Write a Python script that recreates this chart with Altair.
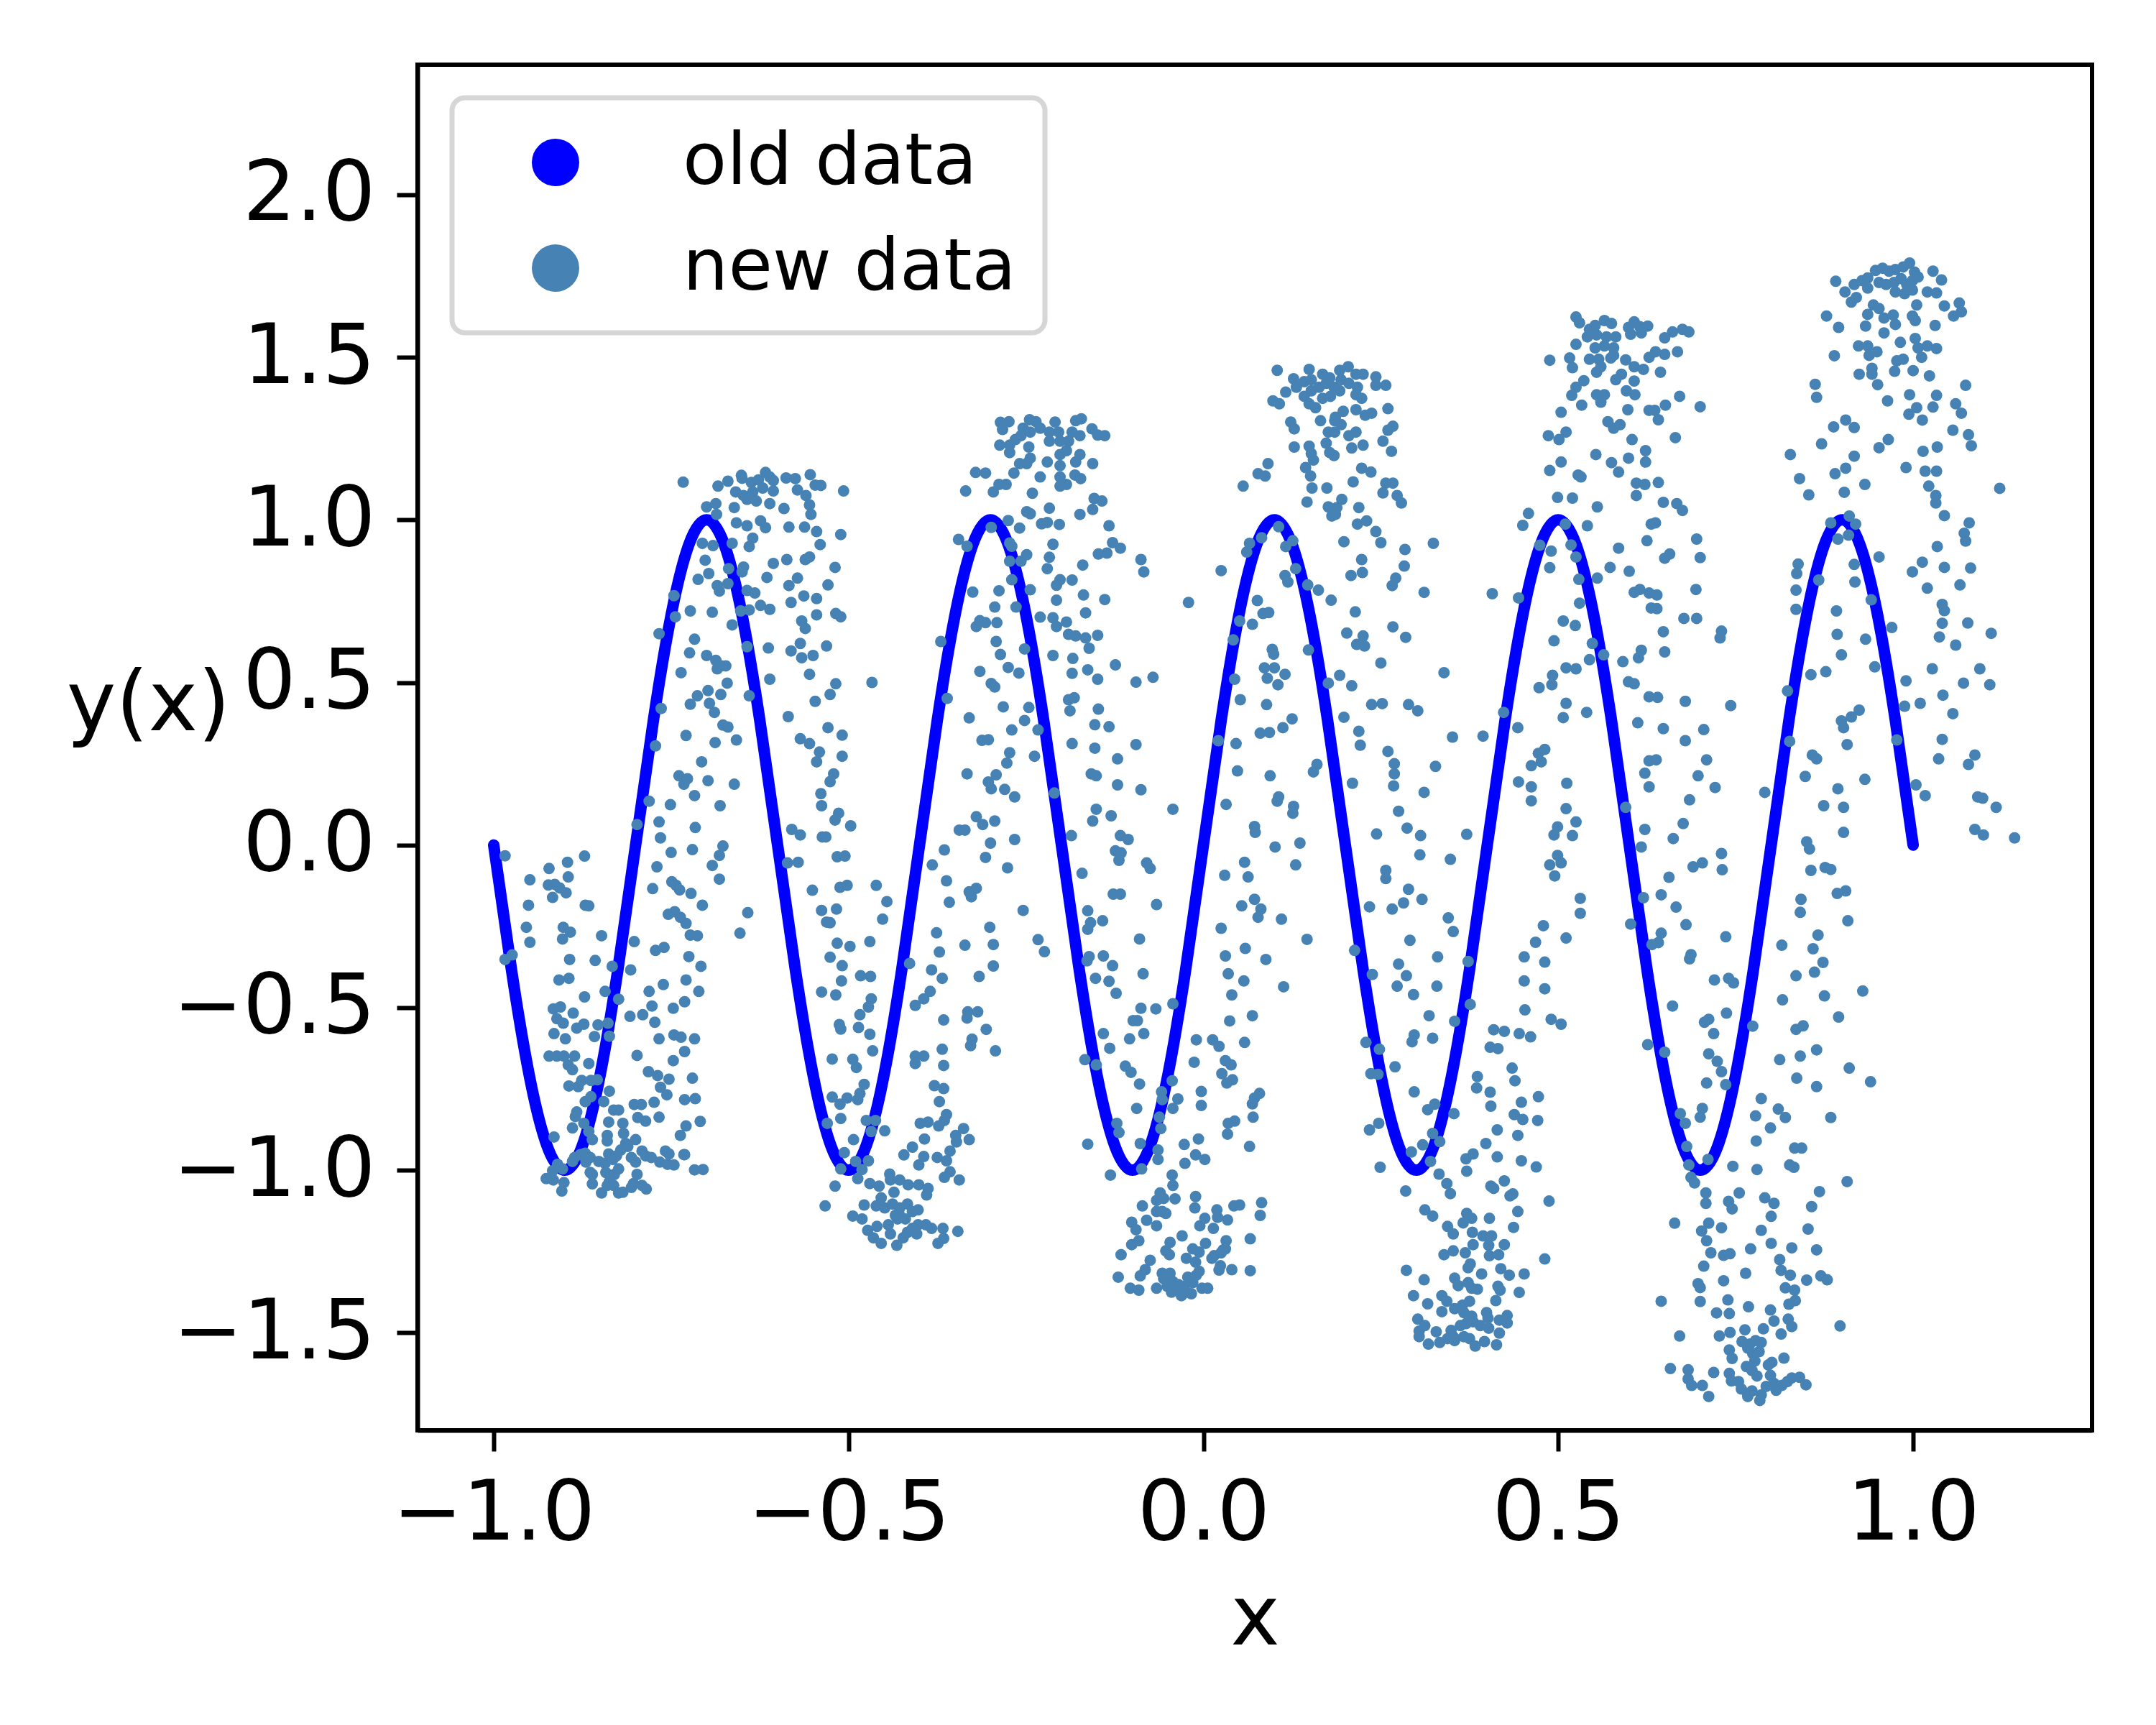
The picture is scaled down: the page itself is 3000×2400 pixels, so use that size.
import altair as alt
import pandas as pd

# ---------------- data ----------------
# "old data": y(x) sampled every 0.025 along x from -1 to 1
line_x = [-1.0, -0.975, -0.95, -0.925, -0.9, -0.875, -0.85, -0.825, -0.8, -0.775, -0.75, -0.725,
          -0.7, -0.675, -0.65, -0.625, -0.6, -0.575, -0.55, -0.525, -0.5, -0.475, -0.45, -0.425,
          -0.4, -0.375, -0.35, -0.325, -0.3, -0.275, -0.25, -0.225, -0.2, -0.175, -0.15, -0.125,
          -0.1, -0.075, -0.05, -0.025, 0.0, 0.025, 0.05, 0.075, 0.1, 0.125, 0.15, 0.175,
          0.2, 0.225, 0.25, 0.275, 0.3, 0.325, 0.35, 0.375, 0.4, 0.425, 0.45, 0.475,
          0.5, 0.525, 0.55, 0.575, 0.6, 0.625, 0.65, 0.675, 0.7, 0.725, 0.75, 0.775,
          0.8, 0.825, 0.85, 0.875, 0.9, 0.925, 0.95, 0.975, 1.0]
line_y = [0.0, -0.383, -0.707, -0.924, -1.0, -0.924, -0.707, -0.383,
          0.0, 0.383, 0.707, 0.924, 1.0, 0.924, 0.707, 0.383,
          0.0, -0.383, -0.707, -0.924, -1.0, -0.924, -0.707, -0.383,
          0.0, 0.383, 0.707, 0.924, 1.0, 0.924, 0.707, 0.383,
          0.0, -0.383, -0.707, -0.924, -1.0, -0.924, -0.707, -0.383,
          0.0, 0.383, 0.707, 0.924, 1.0, 0.924, 0.707, 0.383,
          0.0, -0.383, -0.707, -0.924, -1.0, -0.924, -0.707, -0.383,
          0.0, 0.383, 0.707, 0.924, 1.0, 0.924, 0.707, 0.383,
          0.0, -0.383, -0.707, -0.924, -1.0, -0.924, -0.707, -0.383,
          0.0, 0.383, 0.707, 0.924, 1.0, 0.924, 0.707, 0.383,
          0.0]

# "new data": scattered points, read region by region off the picture
new_left_upper = [
    (-0.733, 1.116), (-0.684, 1.104), (-0.670, 1.119), (-0.651, 1.137), (-0.650, 1.128), (-0.637, 1.115),
    (-0.627, 1.123), (-0.617, 1.146), (-0.611, 1.132), (-0.606, 1.121), (-0.588, 1.129), (-0.575, 1.127),
    (-0.554, 1.139), (-0.547, 1.107), (-0.539, 1.106), (-0.507, 1.089), (-0.659, 1.086), (-0.648, 1.075),
    (-0.635, 1.086), (-0.621, 1.098), (-0.606, 1.089), (-0.572, 1.092), (-0.560, 1.075), (-0.700, 1.040),
    (-0.687, 1.050), (-0.686, 1.017), (-0.661, 1.038), (-0.643, 1.063), (-0.630, 1.058), (-0.611, 1.050),
    (-0.591, 1.035), (-0.555, 1.046), (-0.553, 1.017), (-0.658, 0.991), (-0.643, 0.982), (-0.624, 0.997),
    (-0.617, 0.976), (-0.584, 0.978), (-0.562, 0.978), (-0.545, 0.964), (-0.511, 0.955), (-0.706, 0.928),
    (-0.691, 0.921), (-0.664, 0.928), (-0.640, 0.918), (-0.635, 0.944), (-0.540, 0.924), (-0.587, 0.878),
    (-0.606, 0.866), (-0.561, 0.878), (-0.555, 0.886), (-0.519, 0.854), (-0.702, 0.876), (-0.669, 0.850),
    (-0.650, 0.840), (-0.648, 0.855), (-0.712, 0.817), (-0.697, 0.835), (-0.685, 0.798), (-0.682, 0.781),
    (-0.670, 0.804), (-0.643, 0.783), (-0.632, 0.775), (-0.640, 0.723), (-0.624, 0.737), (-0.611, 0.725),
    (-0.615, 0.823), (-0.584, 0.798), (-0.572, 0.821), (-0.529, 0.800), (-0.545, 0.758), (-0.563, 0.766),
    (-0.581, 0.746), (-0.746, 0.767), (-0.744, 0.702), (-0.723, 0.720), (-0.692, 0.716), (-0.652, 0.720),
    (-0.518, 0.712), (-0.511, 0.702), (-0.545, 0.708), (-0.566, 0.689), (-0.561, 0.666), (-0.767, 0.650),
    (-0.664, 0.677), (-0.717, 0.633), (-0.724, 0.591), (-0.700, 0.583), (-0.687, 0.568), (-0.679, 0.551),
    (-0.673, 0.551), (-0.685, 0.542), (-0.643, 0.610), (-0.613, 0.606), (-0.581, 0.597), (-0.568, 0.620),
    (-0.566, 0.576), (-0.550, 0.583), (-0.531, 0.612), (-0.736, 0.530), (-0.671, 0.498), (-0.611, 0.510),
    (-0.555, 0.525), (-0.518, 0.496), (-0.467, 0.500), (-0.764, 0.420), (-0.723, 0.433), (-0.713, 0.459),
    (-0.698, 0.475), (-0.696, 0.436), (-0.689, 0.408), (-0.680, 0.463), (-0.640, 0.459), (-0.547, 0.442),
    (-0.526, 0.463), (-0.585, 0.395), (-0.772, 0.305), (-0.729, 0.337), (-0.688, 0.315), (-0.677, 0.369),
    (-0.670, 0.363), (-0.658, 0.323), (-0.568, 0.327), (-0.555, 0.312), (-0.529, 0.361), (-0.509, 0.338),
    (-0.541, 0.286), (-0.545, 0.256), (-0.509, 0.273), (-0.707, 0.256), (-0.739, 0.213), (-0.732, 0.187),
    (-0.727, 0.204), (-0.698, 0.198), (-0.661, 0.187), (-0.521, 0.219), (-0.526, 0.195), (-0.539, 0.158),
    (-0.781, 0.135), (-0.751, 0.124), (-0.717, 0.152), (-0.681, 0.121), (-0.538, 0.121), (-0.514, 0.098),
    (-0.286, 1.300), (-0.274, 1.302), (-0.283, 1.278), (-0.254, 1.282), (-0.245, 1.308), (-0.236, 1.302),
    (-0.209, 1.301), (-0.230, 1.282), (-0.217, 1.270), (-0.204, 1.270), (-0.287, 1.230), (-0.273, 1.230),
    (-0.265, 1.247), (-0.257, 1.259), (-0.246, 1.224), (-0.244, 1.270), (-0.217, 1.242), (-0.202, 1.242),
    (-0.273, 1.207), (-0.249, 1.173), (-0.259, 1.173), (-0.244, 1.190), (-0.220, 1.178), (-0.202, 1.201),
    (-0.202, 1.167), (-0.267, 1.144), (-0.278, 1.109), (-0.288, 1.109), (-0.296, 1.086), (-0.307, 1.144),
    (-0.321, 1.146), (-0.335, 1.089), (-0.230, 1.132), (-0.241, 1.082), (-0.202, 1.132), (-0.202, 1.104),
    (-0.217, 1.036), (-0.249, 1.025), (-0.244, 1.019), (-0.275, 0.998), (-0.259, 0.975), (-0.228, 0.988),
    (-0.220, 0.992), (-0.203, 0.986), (-0.299, 0.977), (-0.345, 0.940), (-0.333, 0.919), (-0.273, 0.929),
    (-0.270, 0.919), (-0.212, 0.925), (-0.249, 0.893), (-0.257, 0.873), (-0.273, 0.873), (-0.217, 0.885),
    (-0.220, 0.850), (-0.202, 0.816), (-0.270, 0.816), (-0.288, 0.782), (-0.325, 0.778), (-0.244, 0.785),
    (-0.207, 0.799), (-0.207, 0.753), (-0.294, 0.732), (-0.264, 0.732), (-0.230, 0.701), (-0.212, 0.699),
    (-0.291, 0.684), (-0.307, 0.684), (-0.320, 0.672), (-0.315, 0.690), (-0.207, 0.672), (-0.292, 0.626),
    (-0.370, 0.626), (-0.252, 0.603), (-0.286, 0.586), (-0.275, 0.546), (-0.260, 0.529), (-0.212, 0.583),
    (-0.315, 0.534), (-0.299, 0.497), (-0.294, 0.486), (-0.361, 0.451), (-0.282, 0.425), (-0.246, 0.423),
    (-0.330, 0.391), (-0.252, 0.383), (-0.233, 0.354), (-0.270, 0.354), (-0.312, 0.322), (-0.303, 0.324),
    (-0.273, 0.284), (-0.277, 0.252), (-0.238, 0.273), (-0.333, 0.219), (-0.292, 0.216), (-0.303, 0.194),
    (-0.299, 0.173), (-0.280, 0.171), (-0.266, 0.148), (-0.210, 0.160), (-0.320, 0.087),
]

new_left_lower = [
    (-0.984, -0.033), (-0.949, -0.107), (-0.922, -0.072), (-0.896, -0.053), (-0.872, -0.034), (-0.923, -0.123),
    (-0.914, -0.121), (-0.907, -0.132), (-0.898, -0.147), (-0.917, -0.161), (-0.895, -0.098), (-0.951, -0.185),
    (-0.954, -0.253), (-0.949, -0.299), (-0.902, -0.253), (-0.892, -0.268), (-0.903, -0.289), (-0.871, -0.185),
    (-0.866, -0.187), (-0.848, -0.279), (-0.984, -0.352), (-0.974, -0.338), (-0.893, -0.352), (-0.857, -0.355),
    (-0.908, -0.415), (-0.894, -0.410), (-0.833, -0.373), (-0.807, -0.384), (-0.802, -0.297), (-0.772, -0.324),
    (-0.760, -0.315), (-0.843, -0.450), (-0.824, -0.474), (-0.872, -0.467), (-0.916, -0.504), (-0.906, -0.498),
    (-0.888, -0.517), (-0.911, -0.534), (-0.902, -0.548), (-0.883, -0.563), (-0.873, -0.551), (-0.853, -0.553),
    (-0.839, -0.548), (-0.837, -0.588), (-0.858, -0.589), (-0.915, -0.580), (-0.899, -0.596), (-0.922, -0.649),
    (-0.911, -0.649), (-0.901, -0.649), (-0.886, -0.649), (-0.895, -0.676), (-0.889, -0.691), (-0.866, -0.672),
    (-0.894, -0.741), (-0.881, -0.743), (-0.876, -0.724), (-0.863, -0.724), (-0.854, -0.722), (-0.871, -0.789),
    (-0.863, -0.774), (-0.845, -0.789), (-0.837, -0.757), (-0.883, -0.821), (-0.885, -0.835), (-0.873, -0.856),
    (-0.889, -0.870), (-0.915, -0.898), (-0.866, -0.881), (-0.861, -0.906), (-0.838, -0.852), (-0.818, -0.856),
    (-0.817, -0.887), (-0.831, -0.815), (-0.824, -0.815), (-0.840, -0.893), (-0.840, -0.910), (-0.814, -0.918),
    (-0.800, -0.906), (-0.786, -0.849), (-0.797, -0.838), (-0.802, -0.798), (-0.792, -0.798), (-0.774, -0.791),
    (-0.767, -0.837), (-0.753, -0.720), (-0.765, -0.745), (-0.756, -0.768), (-0.769, -0.709), (-0.782, -0.697),
    (-0.798, -0.647), (-0.808, -0.527), (-0.790, -0.522), (-0.777, -0.495), (-0.773, -0.545), (-0.781, -0.450),
    (-0.761, -0.429), (-0.747, -0.502), (-0.767, -0.596), (-0.746, -0.584), (-0.736, -0.591), (-0.717, -0.596),
    (-0.747, -0.663), (-0.731, -0.635), (-0.720, -0.717), (-0.731, -0.783), (-0.716, -0.780), (-0.709, -0.850),
    (-0.729, -0.864), (-0.737, -0.893), (-0.732, -0.952), (-0.717, -0.999), (-0.705, -0.998), (-0.729, -0.415),
    (-0.711, -0.450), (-0.731, -0.482), (-0.725, -0.343), (-0.708, -0.373), (-0.723, -0.277), (-0.713, -0.279),
    (-0.754, -0.213), (-0.745, -0.205), (-0.737, -0.222), (-0.729, -0.241), (-0.722, -0.149), (-0.706, -0.185),
    (-0.749, -0.113), (-0.738, -0.138), (-0.743, -0.124), (-0.776, -0.134), (-0.770, -0.067), (-0.750, -0.023),
    (-0.720, -0.014), (-0.765, 0.022), (-0.767, 0.071), (-0.798, 0.063), (-0.716, 0.054), (-0.682, -0.032),
    (-0.677, -0.003), (-0.692, -0.063), (-0.682, -0.105), (-0.642, -0.208), (-0.653, -0.271),
    (-0.926, -1.026), (-0.916, -1.030), (-0.910, -0.982), (-0.917, -1.002), (-0.901, -1.038), (-0.904, -1.064),
    (-0.889, -0.973), (-0.873, -0.950), (-0.870, -0.975), (-0.864, -0.961), (-0.861, -1.013), (-0.861, -1.042),
    (-0.848, -1.070), (-0.852, -0.973), (-0.843, -0.979), (-0.838, -0.950), (-0.832, -0.967), (-0.827, -0.956),
    (-0.821, -0.938), (-0.811, -0.927), (-0.806, -0.961), (-0.800, -0.975), (-0.791, -0.941), (-0.786, -0.956),
    (-0.778, -0.961), (-0.766, -0.975), (-0.758, -0.941), (-0.753, -0.950), (-0.755, -0.982), (-0.746, -0.984),
    (-0.731, -0.952), (-0.842, -1.007), (-0.837, -1.035), (-0.830, -1.013), (-0.824, -0.996), (-0.824, -1.070),
    (-0.818, -1.068), (-0.840, -1.047), (-0.831, -1.047), (-0.806, -1.053), (-0.798, -1.013), (-0.791, -1.047),
    (-0.785, -1.058), (-0.803, -1.041), (-0.864, -1.007), (-0.871, -0.948), (-0.878, -0.952), (-0.886, -0.961),
    (-0.903, -0.996),
    (-0.580, 0.048), (-0.568, 0.031), (-0.537, 0.025), (-0.532, 0.025), (-0.519, 0.077), (-0.497, 0.059),
    (-0.586, -0.055), (-0.571, -0.053), (-0.551, -0.139), (-0.516, -0.036), (-0.505, -0.034), (-0.512, -0.130),
    (-0.502, -0.124), (-0.461, -0.124), (-0.446, -0.174), (-0.452, -0.228), (-0.517, -0.197), (-0.538, -0.201),
    (-0.531, -0.237), (-0.526, -0.239), (-0.516, -0.302), (-0.498, -0.312), (-0.470, -0.297), (-0.526, -0.345),
    (-0.509, -0.371), (-0.510, -0.418), (-0.538, -0.452), (-0.518, -0.461), (-0.483, -0.402), (-0.469, -0.404),
    (-0.468, -0.473), (-0.472, -0.498), (-0.484, -0.522), (-0.513, -0.552), (-0.511, -0.566), (-0.486, -0.561),
    (-0.470, -0.582), (-0.466, -0.633), (-0.523, -0.658), (-0.494, -0.659), (-0.489, -0.684), (-0.478, -0.736),
    (-0.484, -0.764), (-0.487, -0.783), (-0.523, -0.775), (-0.512, -0.797), (-0.502, -0.778), (-0.511, -0.841),
    (-0.530, -0.856), (-0.475, -0.847), (-0.462, -0.847), (-0.468, -0.881), (-0.449, -0.879), (-0.493, -0.906),
    (-0.506, -0.946), (-0.511, -0.996), (-0.490, -0.973), (-0.472, -0.971), (-0.481, -0.998), (-0.487, -1.026),
    (-0.519, -1.049), (-0.533, -1.110), (-0.494, -1.141), (-0.470, -1.041), (-0.457, -1.049), (-0.442, -1.012),
    (-0.441, -1.030), (-0.428, -1.030), (-0.416, -1.045), (-0.401, -1.045), (-0.388, -1.056), (-0.390, -1.076),
    (-0.436, -1.068), (-0.454, -1.085), (-0.461, -1.110), (-0.478, -1.107), (-0.449, -1.116), (-0.438, -1.104),
    (-0.428, -1.116), (-0.417, -1.104), (-0.410, -1.127), (-0.402, -1.122), (-0.481, -1.150), (-0.473, -1.185),
    (-0.465, -1.208), (-0.454, -1.225), (-0.441, -1.196), (-0.432, -1.231), (-0.423, -1.208), (-0.417, -1.191),
    (-0.410, -1.179), (-0.402, -1.168), (-0.391, -1.168), (-0.383, -1.179), (-0.367, -1.179), (-0.346, -1.188),
    (-0.374, -1.225), (-0.366, -1.210), (-0.460, -1.173), (-0.444, -1.168), (-0.431, -1.150), (-0.420, -1.150),
    (-0.404, -1.196), (-0.434, -1.139), (-0.429, -1.133),
    (-0.410, -0.929), (-0.422, -0.953), (-0.393, -0.904), (-0.401, -0.984), (-0.394, -0.958), (-0.375, -0.961),
    (-0.362, -0.971), (-0.357, -0.941), (-0.365, -1.022), (-0.357, -1.005), (-0.344, -1.030), (-0.399, -0.856),
    (-0.388, -0.852), (-0.373, -0.864), (-0.365, -0.847), (-0.362, -0.829), (-0.349, -0.893), (-0.348, -0.913),
    (-0.338, -0.872), (-0.330, -0.906), (-0.372, -0.789), (-0.379, -0.740), (-0.366, -0.749), (-0.366, -0.678),
    (-0.368, -0.628), (-0.406, -0.649), (-0.394, -0.649), (-0.406, -0.672), (-0.366, -0.538), (-0.332, -0.513),
    (-0.318, -0.513), (-0.333, -0.532), (-0.306, -0.567), (-0.326, -0.597), (-0.328, -0.617), (-0.293, -0.633),
    (-0.406, -0.493), (-0.394, -0.473), (-0.385, -0.450), (-0.368, -0.410), (-0.383, -0.384), (-0.414, -0.364),
    (-0.372, -0.329), (-0.376, -0.270), (-0.336, -0.308), (-0.316, -0.404), (-0.296, -0.372), (-0.296, -0.306),
    (-0.301, -0.253), (-0.330, -0.144), (-0.320, -0.133), (-0.327, -0.159), (-0.358, -0.176), (-0.362, -0.110),
    (-0.382, -0.061), (-0.365, -0.015), (-0.307, -0.038), (-0.300, 0.006), (-0.276, -0.070), (-0.266, 0.017),
    (-0.254, -0.201), (-0.233, -0.291), (-0.224, -0.328), (-0.344, 0.046), (-0.336, 0.046), (-0.311, 0.063),
    (-0.294, 0.074),
]

new_mid_upper = [
    (-0.180, 1.305), (-0.172, 1.311), (-0.185, 1.270), (-0.174, 1.259), (-0.157, 1.280), (-0.149, 1.261),
    (-0.139, 1.259), (-0.190, 1.242), (-0.193, 1.213), (-0.174, 1.201), (-0.180, 1.178), (-0.156, 1.173),
    (-0.181, 1.138), (-0.173, 1.127), (-0.193, 1.109), (-0.154, 1.066), (-0.143, 1.058), (-0.156, 1.032),
    (-0.174, 1.017), (-0.133, 0.982), (-0.128, 0.930), (-0.117, 0.913), (-0.148, 0.895), (-0.136, 0.898),
    (-0.170, 0.861), (-0.088, 0.878), (-0.084, 0.840), (-0.185, 0.815), (-0.139, 0.755), (-0.169, 0.769),
    (-0.166, 0.714), (-0.193, 0.686), (-0.190, 0.648), (-0.180, 0.643), (-0.166, 0.637), (-0.149, 0.645),
    (-0.161, 0.605), (-0.124, 0.554), (-0.184, 0.574), (-0.185, 0.528), (-0.163, 0.539), (-0.149, 0.510),
    (-0.095, 0.501), (-0.071, 0.516), (-0.190, 0.447), (-0.182, 0.453), (-0.188, 0.413), (-0.148, 0.418),
    (-0.153, 0.370), (-0.133, 0.364), (-0.185, 0.312), (-0.153, 0.298), (-0.121, 0.265), (-0.095, 0.309),
    (-0.158, 0.219), (-0.151, 0.213), (-0.121, 0.185), (-0.088, 0.170), (-0.151, 0.110), (-0.130, 0.090),
    (-0.043, 0.110), (-0.021, 0.746),
    (0.104, 1.460), (0.149, 1.463), (0.127, 1.434), (0.142, 1.425), (0.152, 1.431), (0.168, 1.448),
    (0.178, 1.437), (0.192, 1.460), (0.204, 1.471), (0.215, 1.448), (0.225, 1.448), (0.243, 1.440),
    (0.257, 1.414), (0.243, 1.414), (0.116, 1.393), (0.098, 1.366), (0.107, 1.357), (0.131, 1.408),
    (0.142, 1.380), (0.152, 1.397), (0.163, 1.408), (0.173, 1.420), (0.184, 1.408), (0.194, 1.431),
    (0.205, 1.420), (0.217, 1.408), (0.215, 1.385), (0.223, 1.374), (0.149, 1.357), (0.158, 1.345),
    (0.168, 1.374), (0.179, 1.380), (0.192, 1.397), (0.186, 1.316), (0.197, 1.334), (0.215, 1.339),
    (0.228, 1.322), (0.237, 1.328), (0.260, 1.342), (0.185, 1.305), (0.194, 1.293), (0.123, 1.301),
    (0.128, 1.280), (0.165, 1.305), (0.176, 1.270), (0.185, 1.270), (0.205, 1.259), (0.215, 1.270),
    (0.128, 1.224), (0.149, 1.227), (0.152, 1.204), (0.173, 1.236), (0.178, 1.207), (0.184, 1.198),
    (0.209, 1.221), (0.225, 1.230), (0.253, 1.242), (0.260, 1.276), (0.267, 1.288), (0.265, 1.211),
    (0.155, 1.184), (0.144, 1.161), (0.151, 1.135), (0.223, 1.159), (0.236, 1.147), (0.211, 1.117),
    (0.257, 1.113), (0.267, 1.113), (0.253, 1.083), (0.273, 1.075), (0.279, 1.052), (0.153, 1.098),
    (0.174, 1.098), (0.146, 1.055), (0.195, 1.063), (0.188, 1.038), (0.176, 1.040), (0.181, 1.012),
    (0.186, 1.017), (0.219, 1.038), (0.217, 0.987), (0.230, 0.997), (0.243, 0.964), (0.250, 0.930),
    (0.198, 0.933), (0.056, 1.104), (0.077, 1.142), (0.087, 1.135), (0.091, 1.173),
    (0.106, 0.979), (0.082, 0.945), (0.065, 0.928), (0.061, 0.901), (0.116, 0.918), (0.126, 0.936),
    (0.130, 0.850), (0.115, 0.829), (0.119, 0.809), (0.147, 0.800), (0.162, 0.784), (0.180, 0.753),
    (0.025, 0.844), (0.076, 0.752), (0.084, 0.712), (0.092, 0.715), (0.069, 0.679), (0.051, 0.689),
    (0.042, 0.631), (0.214, 0.717), (0.223, 0.878), (0.208, 0.829), (0.224, 0.838), (0.284, 0.909),
    (0.283, 0.858), (0.271, 0.821), (0.266, 0.798), (0.311, 0.777), (0.324, 0.928), (0.267, 0.671),
    (0.285, 0.639), (0.202, 0.652), (0.225, 0.643), (0.216, 0.617), (0.227, 0.612), (0.250, 0.560),
    (0.148, 0.600), (0.097, 0.602), (0.099, 0.587), (0.086, 0.545), (0.100, 0.545), (0.115, 0.525),
    (0.090, 0.513), (0.105, 0.493), (0.044, 0.510), (0.052, 0.447), (0.089, 0.432), (0.176, 0.498),
    (0.192, 0.522), (0.209, 0.490), (0.339, 0.530), (0.237, 0.432), (0.252, 0.435), (0.289, 0.432),
    (0.302, 0.413), (0.198, 0.393), (0.125, 0.388), (0.112, 0.361), (0.080, 0.344), (0.093, 0.346),
    (0.219, 0.350), (0.221, 0.307), (0.046, 0.312), (0.021, 0.321), (0.260, 0.288), (0.269, 0.250),
    (0.269, 0.219), (0.268, 0.182), (0.327, 0.242), (0.160, 0.248), (0.155, 0.225), (0.094, 0.213),
    (0.048, 0.228), (0.210, 0.190), (0.311, 0.162), (0.106, 0.148), (0.104, 0.135), (0.127, 0.119),
    (0.126, 0.098), (0.032, 0.125), (0.275, 0.104), (0.351, 0.332), (0.394, 0.335),
    (0.525, 1.624), (0.530, 1.606), (0.544, 1.586), (0.552, 1.598), (0.565, 1.613), (0.575, 1.604),
    (0.541, 1.563), (0.554, 1.569), (0.568, 1.563), (0.581, 1.563), (0.565, 1.535), (0.578, 1.529),
    (0.552, 1.529), (0.607, 1.609), (0.599, 1.592), (0.615, 1.594), (0.626, 1.596), (0.602, 1.571),
    (0.617, 1.575), (0.525, 1.540), (0.516, 1.498), (0.520, 1.468), (0.488, 1.491), (0.544, 1.494),
    (0.557, 1.494), (0.554, 1.454), (0.560, 1.471), (0.574, 1.498), (0.578, 1.506), (0.595, 1.492),
    (0.607, 1.471), (0.620, 1.463), (0.628, 1.500), (0.536, 1.428), (0.525, 1.408), (0.519, 1.383),
    (0.554, 1.385), (0.560, 1.362), (0.565, 1.385), (0.533, 1.353), (0.581, 1.431), (0.589, 1.448),
    (0.607, 1.427), (0.596, 1.397), (0.608, 1.385), (0.504, 1.331), (0.486, 1.259), (0.501, 1.247),
    (0.511, 1.270), (0.570, 1.302), (0.578, 1.282), (0.587, 1.293), (0.598, 1.339), (0.604, 1.247),
    (0.628, 1.337), (0.553, 1.201), (0.575, 1.176), (0.585, 1.147), (0.599, 1.190), (0.623, 1.213),
    (0.623, 1.178), (0.504, 1.178), (0.488, 1.152), (0.528, 1.138), (0.532, 1.132), (0.610, 1.113),
    (0.610, 1.075), (0.622, 1.109), (0.499, 1.069), (0.520, 1.067), (0.555, 1.040), (0.458, 1.020),
    (0.450, 0.983), (0.510, 0.987), (0.541, 0.982), (0.631, 0.987), (0.474, 0.922), (0.490, 0.904),
    (0.518, 0.923), (0.488, 0.853), (0.525, 0.886), (0.529, 0.817), (0.555, 0.821), (0.573, 0.854),
    (0.585, 0.913), (0.600, 0.842), (0.625, 0.936), (0.607, 0.777), (0.615, 0.786), (0.628, 0.775),
    (0.407, 0.773), (0.444, 0.760), (0.530, 0.744), (0.507, 0.689), (0.524, 0.675), (0.631, 0.729),
    (0.494, 0.628), (0.548, 0.620), (0.564, 0.585), (0.544, 0.570), (0.511, 0.545), (0.525, 0.542),
    (0.492, 0.522), (0.491, 0.493), (0.473, 0.484), (0.591, 0.564), (0.613, 0.576), (0.617, 0.599),
    (0.599, 0.502), (0.607, 0.496), (0.628, 0.456), (0.423, 0.408), (0.443, 0.361), (0.511, 0.436),
    (0.507, 0.392), (0.540, 0.408), (0.612, 0.376), (0.472, 0.282), (0.481, 0.294), (0.476, 0.256),
    (0.462, 0.244), (0.628, 0.259), (0.622, 0.221), (0.444, 0.194), (0.462, 0.179), (0.462, 0.136),
    (0.512, 0.190), (0.511, 0.112), (0.595, 0.116), (0.628, 0.179),
]

new_mid_lower = [
    (-0.156, 0.074), (-0.186, 0.029), (-0.117, 0.029), (-0.106, 0.017), (-0.124, -0.018), (-0.116, -0.024),
    (-0.119, -0.047), (-0.080, -0.055), (-0.075, -0.072), (-0.171, -0.087), (-0.127, -0.151), (-0.117, -0.151),
    (-0.066, -0.183), (-0.163, -0.202), (-0.159, -0.239), (-0.163, -0.259), (-0.142, -0.233), (-0.090, -0.289),
    (-0.161, -0.343), (-0.164, -0.356), (-0.141, -0.341), (-0.128, -0.371), (-0.085, -0.396), (-0.152, -0.410),
    (-0.133, -0.419), (-0.123, -0.456), (-0.088, -0.502), (-0.067, -0.504), (-0.043, -0.488), (-0.099, -0.540),
    (-0.093, -0.540), (-0.141, -0.580), (-0.104, -0.596), (-0.084, -0.580), (-0.132, -0.625), (-0.167, -0.660),
    (-0.151, -0.676), (-0.110, -0.680), (-0.102, -0.699), (-0.090, -0.735), (-0.094, -0.810), (-0.059, -0.759),
    (-0.058, -0.783), (-0.044, -0.725), (-0.036, -0.781), (-0.043, -0.810), (-0.122, -0.856), (-0.119, -0.884),
    (-0.163, -0.920), (-0.089, -0.918), (-0.062, -0.837), (-0.060, -0.872), (-0.064, -0.938), (-0.064, -0.967),
    (-0.131, -1.015), (-0.087, -0.996), (-0.027, -0.921), (-0.007, -0.904), (-0.011, -0.953), (0.002, -0.967),
    (-0.026, -0.979), (-0.010, -0.599), (-0.013, -0.668), (0.013, -0.599), (0.022, -0.619), (0.031, -0.663),
    (0.039, -0.676), (0.026, -0.703), (0.033, -0.732), (0.041, -0.722), (-0.003, -0.758), (-0.003, -0.801),
    (0.035, -0.856), (0.044, -0.849), (0.034, -0.889), (0.070, -0.837), (0.069, -0.796), (0.072, -0.778),
    (0.079, -0.764), (0.065, -0.927), (0.058, -0.607), (0.037, -0.541), (0.069, -0.525), (0.057, -0.418),
    (0.035, -0.396), (0.040, -0.461), (0.059, -0.318), (0.088, -0.352), (0.031, -0.341), (0.113, -0.436),
    (0.025, -0.256), (0.054, -0.187), (0.072, -0.167), (0.081, -0.197), (0.077, -0.222), (0.110, -0.228),
    (0.146, -0.290), (0.030, -0.093), (0.063, -0.098), (0.058, -0.053), (0.072, 0.057), (0.073, 0.039),
    (0.101, -0.006), (0.130, -0.061), (0.136, 0.006), (-0.044, -1.015),
    (-0.043, -1.047), (-0.061, -1.070), (-0.066, -1.093), (-0.056, -1.087), (-0.040, -1.088), (-0.011, -1.081),
    (-0.012, -1.116), (-0.086, -1.110), (-0.101, -1.160), (-0.095, -1.183), (-0.080, -1.154), (-0.066, -1.127),
    (-0.058, -1.127), (-0.053, -1.133), (-0.066, -1.171), (-0.005, -1.171), (0.002, -1.148), (0.014, -1.179),
    (0.019, -1.122), (0.020, -1.145), (0.034, -1.153), (0.043, -1.110), (0.051, -1.107), (0.032, -1.217),
    (0.028, -1.245), (0.066, -1.211), (0.082, -1.100), (0.080, -1.139), (-0.101, -1.229), (-0.091, -1.217),
    (-0.116, -1.260), (-0.075, -1.277), (-0.053, -1.248), (-0.048, -1.260), (-0.047, -1.222), (-0.030, -1.202),
    (-0.015, -1.242), (-0.006, -1.252), (0.003, -1.225), (0.015, -1.263), (0.025, -1.254), (0.031, -1.242),
    (-0.024, -1.271), (-0.011, -1.283), (0.012, -1.271), (0.024, -1.294), (0.022, -1.307), (0.040, -1.306),
    (0.066, -1.309), (-0.082, -1.306), (-0.089, -1.325), (-0.120, -1.329), (-0.058, -1.317), (-0.047, -1.317),
    (-0.066, -1.363), (-0.103, -1.363), (-0.091, -1.369), (-0.056, -1.334), (-0.051, -1.357), (-0.043, -1.343),
    (-0.037, -1.369), (-0.031, -1.386), (-0.027, -1.357), (-0.022, -1.329), (-0.015, -1.346), (-0.010, -1.323),
    (-0.006, -1.311), (-0.002, -1.363), (0.006, -1.363), (-0.017, -1.380), (-0.024, -1.375), (-0.035, -1.352),
    (-0.045, -1.375),
    (0.244, 0.034), (0.287, 0.052), (0.306, 0.029), (0.305, -0.030), (0.348, -0.044), (0.371, 0.033),
    (0.257, -0.078), (0.257, -0.103), (0.289, -0.136), (0.308, -0.167), (0.282, -0.178), (0.266, -0.197),
    (0.234, -0.190), (0.345, -0.224), (0.352, -0.266), (0.291, -0.293), (0.330, -0.344), (0.275, -0.366),
    (0.286, -0.402), (0.273, -0.434), (0.296, -0.460), (0.329, -0.434), (0.318, -0.525), (0.297, -0.584),
    (0.294, -0.605), (0.323, -0.594), (0.373, -0.358), (0.376, -0.490), (0.213, -0.324), (0.238, -0.398),
    (0.229, -0.607), (0.248, -0.628), (0.270, -0.682), (0.236, -0.703), (0.246, -0.705), (0.297, -0.759),
    (0.316, -0.814), (0.326, -0.797), (0.353, -0.826), (0.323, -0.887), (0.333, -0.912), (0.309, -0.922),
    (0.293, -0.944), (0.320, -0.973), (0.234, -0.876), (0.247, -0.856), (0.249, -0.991), (0.285, -1.064),
    (0.332, -1.012), (0.343, -1.041), (0.348, -1.072), (0.370, -0.965), (0.380, -0.950), (0.371, -1.003),
    (0.398, -0.918), (0.414, -0.876), (0.414, -0.959), (0.404, -0.760), (0.405, -0.803), (0.386, -0.712),
    (0.385, -0.747), (0.354, -0.542), (0.409, -0.568), (0.424, -0.573), (0.445, -0.580), (0.461, -0.590),
    (0.404, -0.622), (0.415, -0.626), (0.435, -0.686), (0.439, -0.725), (0.448, -0.791), (0.438, -0.829),
    (0.450, -0.844), (0.443, -0.893), (0.472, -0.774), (0.471, -0.847), (0.448, -0.971), (0.469, -0.990),
    (0.424, -1.033), (0.405, -1.049), (0.409, -1.056), (0.432, -1.079), (0.436, -1.073), (0.443, -1.127),
    (0.437, -1.176), (0.487, -1.095), (0.481, -1.273), (0.403, -1.148), (0.371, -1.133), (0.366, -1.162),
    (0.378, -1.148), (0.312, -1.122), (0.323, -1.141), (0.344, -1.173), (0.352, -1.196), (0.379, -1.191),
    (0.394, -1.202), (0.406, -1.202), (0.402, -1.231), (0.403, -1.263), (0.416, -1.260), (0.424, -1.229),
    (0.380, -1.229), (0.369, -1.254), (0.339, -1.260), (0.352, -1.248), (0.376, -1.288), (0.373, -1.300),
    (0.392, -1.319), (0.419, -1.303), (0.431, -1.323), (0.452, -1.319), (0.445, -1.376), (0.412, -1.401),
    (0.415, -1.357), (0.418, -1.369), (0.286, -1.308), (0.311, -1.337), (0.354, -1.332), (0.359, -1.355),
    (0.373, -1.346), (0.378, -1.363), (0.386, -1.366), (0.296, -1.386), (0.316, -1.411), (0.336, -1.386),
    (0.343, -1.403), (0.336, -1.435), (0.354, -1.426), (0.365, -1.415), (0.375, -1.403), (0.378, -1.449),
    (0.367, -1.438), (0.399, -1.438), (0.401, -1.455), (0.417, -1.461), (0.428, -1.447), (0.428, -1.470),
    (0.302, -1.458), (0.304, -1.495), (0.312, -1.478), (0.328, -1.497), (0.349, -1.493), (0.362, -1.478),
    (0.370, -1.472), (0.380, -1.466), (0.390, -1.478), (0.402, -1.486), (0.417, -1.501), (0.304, -1.512),
    (0.317, -1.535), (0.333, -1.530), (0.344, -1.518), (0.354, -1.524), (0.375, -1.518), (0.383, -1.541),
    (0.396, -1.527), (0.413, -1.537), (0.367, -1.512), (0.352, -1.512),
    (0.494, 0.031), (0.499, 0.056), (0.520, 0.029), (0.525, 0.071), (0.488, -0.061), (0.499, -0.032),
    (0.504, -0.055), (0.495, -0.095), (0.531, -0.164), (0.531, -0.210), (0.511, -0.286), (0.481, -0.360),
    (0.479, -0.248), (0.468, -0.299), (0.452, -0.344), (0.452, -0.418), (0.481, -0.442), (0.453, -0.507),
    (0.490, -0.536), (0.504, -0.551), (0.620, -0.162), (0.602, -0.243), (0.617, -0.006), (0.622, 0.048),
    (0.626, -0.614), (0.632, -0.306),
]

new_right_upper = [
    (0.637, 1.517), (0.650, 1.560), (0.661, 1.578), (0.675, 1.586), (0.684, 1.578), (0.668, 1.517),
    (0.650, 1.509), (0.644, 1.454), (0.671, 1.380), (0.700, 1.348), (0.651, 1.353), (0.636, 1.337),
    (0.641, 1.308), (0.665, 1.253), (0.641, 1.115), (0.648, 1.054), (0.667, 1.050), (0.675, 1.029),
    (0.637, 0.991), (0.695, 0.941), (0.700, 0.884), (0.657, 0.895), (0.650, 0.882), (0.694, 0.786),
    (0.639, 0.769), (0.639, 0.727), (0.677, 0.697), (0.695, 0.697), (0.648, 0.656), (0.730, 0.658),
    (0.728, 0.637), (0.650, 0.594), (0.679, 0.442), (0.640, 0.454), (0.648, 0.358), (0.679, 0.321),
    (0.705, 0.355), (0.709, 0.262), (0.697, 0.213), (0.638, 0.262), (0.721, 0.177), (0.685, 0.139),
    (0.743, 0.429),
    (0.891, 1.734), (0.904, 1.701), (0.913, 1.670), (0.920, 1.684), (0.917, 1.724), (0.928, 1.736),
    (0.936, 1.744), (0.947, 1.767), (0.957, 1.774), (0.966, 1.765), (0.975, 1.770), (0.986, 1.778),
    (0.995, 1.790), (1.002, 1.762), (0.936, 1.713), (0.952, 1.730), (0.962, 1.724), (0.973, 1.730),
    (0.983, 1.742), (0.991, 1.724), (0.999, 1.736), (1.007, 1.747), (0.975, 1.701), (0.988, 1.696),
    (0.999, 1.707), (1.020, 1.701), (1.033, 1.698), (1.028, 1.765), (1.040, 1.738), (1.005, 1.661),
    (1.044, 1.658), (1.065, 1.667), (1.057, 1.627), (1.068, 1.640), (0.944, 1.661), (0.952, 1.650),
    (0.936, 1.632), (0.959, 1.621), (0.972, 1.630), (0.975, 1.601), (0.959, 1.575), (0.999, 1.627),
    (1.003, 1.613), (1.031, 1.598), (0.878, 1.627), (0.895, 1.592), (0.933, 1.596), (0.923, 1.535),
    (0.936, 1.535), (0.949, 1.517), (0.938, 1.506), (0.889, 1.505), (1.003, 1.558), (1.007, 1.529),
    (1.020, 1.535), (1.033, 1.527), (1.012, 1.500), (0.982, 1.546), (0.977, 1.489), (0.986, 1.494),
    (0.942, 1.466), (0.942, 1.448), (0.974, 1.457), (1.000, 1.459), (1.023, 1.443), (0.924, 1.448),
    (0.950, 1.416), (0.964, 1.366), (0.995, 1.385), (1.033, 1.383), (1.005, 1.345), (1.028, 1.347),
    (0.994, 1.325), (1.013, 1.307), (1.060, 1.357), (1.068, 1.328), (1.074, 1.414), (1.056, 1.276),
    (1.078, 1.262), (1.082, 1.228), (0.862, 1.417), (0.864, 1.377), (0.905, 1.307), (0.888, 1.286),
    (0.917, 1.284), (0.871, 1.234), (0.952, 1.222), (0.965, 1.247), (0.827, 1.201), (0.917, 1.196),
    (0.905, 1.159), (0.890, 1.142), (0.840, 1.127), (0.853, 1.077), (0.903, 1.085), (0.932, 1.109),
    (0.990, 1.161), (1.014, 1.211), (1.034, 1.224), (1.017, 1.150), (1.033, 1.150), (1.022, 1.104),
    (1.032, 1.075), (1.032, 1.052), (1.044, 1.013), (1.079, 0.991), (1.072, 0.959), (1.074, 0.935),
    (1.122, 1.097),
    (0.884, 0.991), (0.910, 1.012), (0.919, 0.987), (0.894, 0.941), (0.909, 0.953), (0.952, 0.886),
    (0.838, 0.864), (0.836, 0.835), (0.835, 0.784), (0.835, 0.725), (0.867, 0.815), (0.917, 0.863),
    (0.918, 0.809), (0.941, 0.754), (0.892, 0.720), (0.893, 0.648), (0.899, 0.585), (0.970, 0.669),
    (0.933, 0.633), (0.946, 0.548), (0.999, 0.840), (1.013, 0.870), (1.020, 0.790), (1.034, 0.918),
    (1.044, 0.854), (1.081, 0.852), (1.066, 0.800), (1.041, 0.740), (1.044, 0.721), (1.041, 0.682),
    (1.037, 0.640), (1.060, 0.615), (1.077, 0.683), (1.110, 0.651), (1.027, 0.542), (1.094, 0.542),
    (1.071, 0.498), (1.108, 0.493), (0.990, 0.505), (0.988, 0.427), (1.010, 0.436), (1.042, 0.461),
    (1.056, 0.404), (1.041, 0.325), (1.036, 0.265), (1.087, 0.277), (1.078, 0.248), (0.856, 0.524),
    (0.877, 0.533), (0.823, 0.474), (0.826, 0.319), (0.924, 0.415), (0.913, 0.394), (0.899, 0.382),
    (0.902, 0.361), (0.907, 0.309), (0.858, 0.277), (0.864, 0.265), (0.848, 0.211), (0.791, 0.162),
    (0.894, 0.173), (0.932, 0.202), (0.977, 0.323), (1.004, 0.185), (1.017, 0.152), (1.091, 0.148),
    (1.098, 0.144), (1.117, 0.116), (0.874, 0.121), (0.902, 0.116),
]

new_right_lower = [
    (1.087, 0.048), (1.099, 0.031), (1.143, 0.022), (0.902, 0.039), (0.850, 0.010), (0.854, -0.012),
    (0.662, 0.020), (0.676, 0.066), (0.690, -0.067), (0.703, -0.055), (0.730, -0.026), (0.731, -0.076),
    (0.856, -0.078), (0.876, -0.069), (0.884, -0.075), (0.656, -0.099), (0.645, -0.153), (0.893, -0.149),
    (0.905, -0.141), (0.842, -0.167), (0.841, -0.207), (0.908, -0.233), (0.666, -0.191), (0.680, -0.245),
    (0.645, -0.271), (0.641, -0.300), (0.736, -0.282), (0.815, -0.308), (0.866, -0.277), (0.859, -0.319),
    (0.873, -0.361), (0.861, -0.391), (0.687, -0.337), (0.685, -0.350), (0.720, -0.415), (0.740, -0.410),
    (0.747, -0.424), (0.835, -0.402), (0.875, -0.464), (0.929, -0.449), (0.816, -0.476), (0.661, -0.495),
    (0.737, -0.517), (0.706, -0.545), (0.712, -0.536), (0.719, -0.580), (0.774, -0.557), (0.835, -0.567),
    (0.845, -0.556), (0.895, -0.529), (0.650, -0.637), (0.712, -0.642), (0.724, -0.665), (0.730, -0.697),
    (0.709, -0.732), (0.736, -0.737), (0.812, -0.660), (0.841, -0.649), (0.864, -0.630), (0.910, -0.686),
    (0.940, -0.728), (0.836, -0.717), (0.864, -0.743), (0.786, -0.780), (0.810, -0.812), (0.820, -0.838),
    (0.778, -0.833), (0.799, -0.870), (0.779, -0.910), (0.884, -0.838), (0.703, -0.810), (0.700, -0.837),
    (0.672, -0.826), (0.679, -0.856), (0.681, -0.927), (0.711, -0.967), (0.684, -0.984), (0.687, -1.022),
    (0.692, -1.039), (0.746, -0.988), (0.780, -0.998), (0.826, -0.984), (0.832, -0.991), (0.833, -0.932),
    (0.843, -0.932), (0.907, -1.035), (0.868, -1.066), (0.857, -1.112), (0.708, -1.070), (0.708, -1.102),
    (0.740, -1.096), (0.745, -1.119), (0.755, -1.070), (0.791, -1.085), (0.804, -1.102), (0.800, -1.142),
    (0.664, -1.163), (0.712, -1.163), (0.730, -1.177), (0.702, -1.187), (0.709, -1.217), (0.715, -1.254),
    (0.733, -1.262), (0.742, -1.257), (0.771, -1.242), (0.786, -1.185), (0.800, -1.225), (0.829, -1.239),
    (0.852, -1.181), (0.864, -1.245), (0.705, -1.295), (0.764, -1.317), (0.812, -1.275), (0.814, -1.308),
    (0.827, -1.323), (0.850, -1.338), (0.870, -1.325), (0.879, -1.337), (0.733, -1.340), (0.697, -1.349),
    (0.700, -1.361), (0.820, -1.362), (0.833, -1.369), (0.834, -1.401), (0.825, -1.412), (0.645, -1.403),
    (0.700, -1.404), (0.739, -1.399), (0.768, -1.420), (0.799, -1.430), (0.723, -1.439), (0.741, -1.441),
    (0.804, -1.464), (0.824, -1.458), (0.829, -1.481), (0.897, -1.479), (0.671, -1.510), (0.727, -1.510),
    (0.742, -1.499), (0.763, -1.491), (0.789, -1.488), (0.814, -1.504), (0.759, -1.527), (0.770, -1.535),
    (0.778, -1.524), (0.786, -1.530), (0.767, -1.547), (0.774, -1.564), (0.783, -1.558), (0.741, -1.553),
    (0.745, -1.579), (0.818, -1.578), (0.777, -1.587), (0.765, -1.604), (0.773, -1.616), (0.796, -1.599),
    (0.801, -1.591), (0.658, -1.610), (0.683, -1.614), (0.719, -1.622), (0.741, -1.625), (0.780, -1.633),
    (0.799, -1.631), (0.683, -1.642), (0.688, -1.662), (0.703, -1.662), (0.712, -1.696), (0.744, -1.648),
    (0.754, -1.650), (0.758, -1.673), (0.767, -1.688), (0.773, -1.679), (0.786, -1.691), (0.784, -1.708),
    (0.793, -1.665), (0.804, -1.656), (0.815, -1.662), (0.823, -1.650), (0.829, -1.639), (0.840, -1.637),
    (0.849, -1.660), (0.807, -1.677), (0.767, -1.696),
]

series_names = ["old data", "new data"]
series_colors = ["#0000ff", "#4682b4"]
x_ticks = [-1.0, -0.5, 0.0, 0.5, 1.0]
y_ticks = [-1.5, -1.0, -0.5, 0.0, 0.5, 1.0, 1.5, 2.0]

# ---------------- tables ----------------
line_df = pd.DataFrame({"x": line_x, "y": line_y})
pts = new_left_upper + new_left_lower + new_mid_upper + new_mid_lower + new_right_upper + new_right_lower
pts_df = pd.DataFrame(pts, columns=["x", "y"])
pts_df["series"] = "new data"

FONT = "DejaVu Sans"
TICK_FS = 116

x_enc = alt.X(
    "x:Q",
    scale=alt.Scale(domain=[-1.1073, 1.2521], nice=False, zero=False),
    axis=alt.Axis(
        values=x_ticks, format=".1f", title="x", grid=False,
        tickSize=29, tickWidth=6, tickColor="black",
        domainColor="black", domainWidth=6,
        labelFont=FONT, labelFontSize=TICK_FS, labelColor="black", labelLimit=2000,
        labelBaseline="alphabetic", labelPadding=122, labelFlush=False, labelOverlap=False,
        titleFont=FONT, titleFontSize=TICK_FS, titleFontWeight="normal", titleColor="black",
        titleBaseline="alphabetic", titleY=297, titleLimit=2000,
    ),
)
y_enc = alt.Y(
    "y:Q",
    scale=alt.Scale(domain=[-1.8, 2.4], nice=False, zero=False),
    axis=alt.Axis(
        values=y_ticks, format=".1f", title="y(x)", grid=False,
        tickSize=29, tickWidth=6, tickColor="black",
        domainColor="black", domainWidth=6,
        labelFont=FONT, labelFontSize=TICK_FS, labelColor="black", labelLimit=2000,
        labelPadding=30, labelFlush=False, labelOverlap=False,
        titleFont=FONT, titleFontSize=TICK_FS, titleFontWeight="normal", titleColor="black",
        titleAngle=0, titleAlign="right", titleBaseline="alphabetic",
        titleX=-261, titleY=925, titleLimit=2000,
    ),
)

line = alt.Chart(line_df).mark_line(
    color="#0000ff", strokeWidth=16, strokeCap="round", interpolate="natural", clip=True
).encode(x=x_enc, y=y_enc, order="x:Q")

points = alt.Chart(pts_df).mark_circle(size=256, opacity=1, clip=True).encode(
    x=x_enc,
    y=y_enc,
    color=alt.Color(
        "series:N",
        scale=alt.Scale(domain=series_names, range=series_colors),
        legend=alt.Legend(
            title=None, orient="none", legendX=48, legendY=46,
            symbolType="circle", symbolSize=4356, symbolOffset=54, symbolStrokeWidth=0, symbolOpacity=1,
            labelFont=FONT, labelFontSize=100, labelColor="black", labelOffset=127, labelLimit=2000,
            rowPadding=47, padding=40, cornerRadius=18,
            strokeColor="#d6d6d6", fillColor="white",
        ),
    ),
)

chart = (
    alt.layer(line, points)
    .properties(
        width=2330, height=1900,
        padding={"left": 573, "top": 82, "right": 81, "bottom": 402},
        autosize=alt.AutoSizeParams(type="none"),
        background="white",
    )
    .configure_view(stroke="black", strokeWidth=6)
    .configure_legend(strokeWidth=7)
)

chart.save("out.html", embed_options={"renderer": "svg", "actions": False})
